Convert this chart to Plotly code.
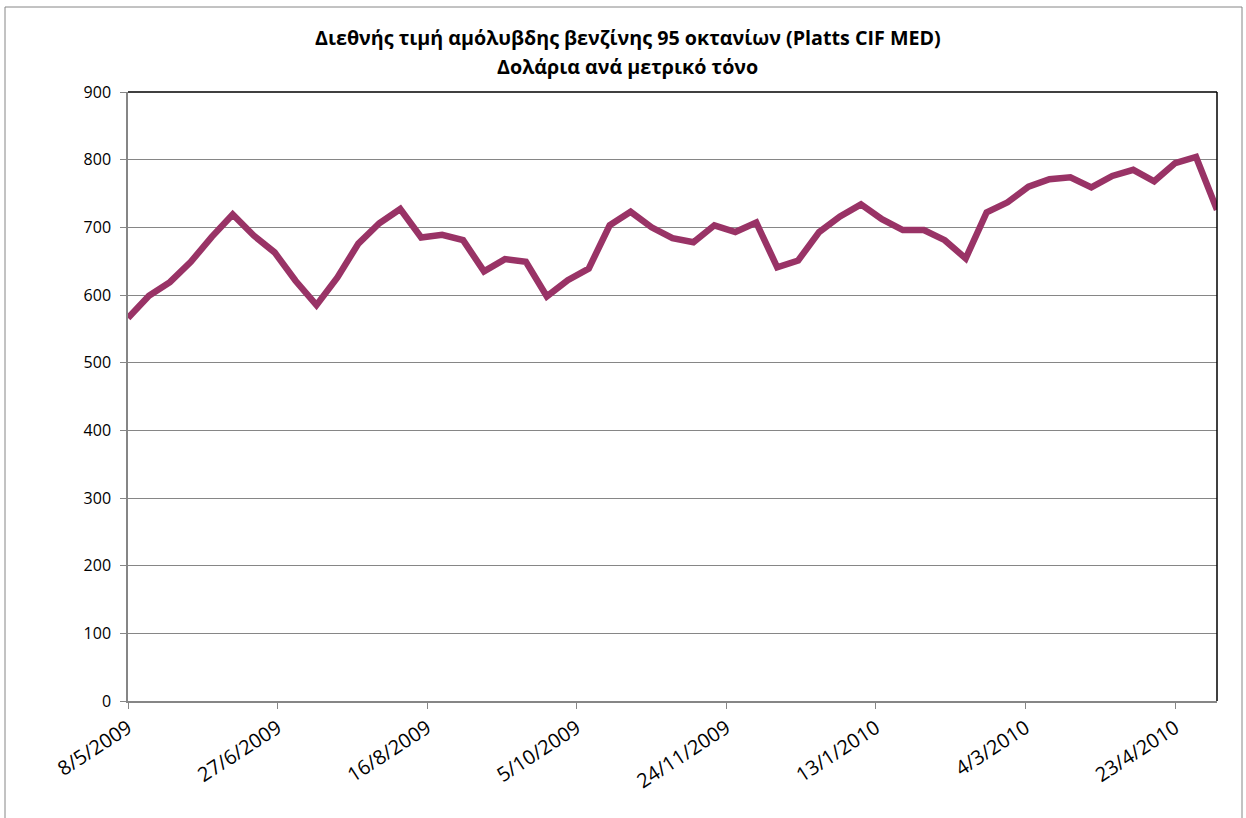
import datetime as dt
import plotly.graph_objects as go

start = dt.date(2009, 5, 8)
prices = [566, 599, 619, 649, 686, 719, 688, 663, 621, 585,
          626, 676, 706, 727, 685, 689, 681, 635, 653, 649,
          598, 622, 639, 703, 723, 700, 684, 678, 703, 693,
          707, 641, 651, 693, 716, 734, 712, 696, 696, 681,
          654, 722, 737, 760, 771, 774, 759, 776, 785, 768,
          795, 804, 726]
dates = [start + dt.timedelta(days=7 * i) for i in range(len(prices))]

tick_dates = [dt.date(2009, 5, 8), dt.date(2009, 6, 27), dt.date(2009, 8, 16),
              dt.date(2009, 10, 5), dt.date(2009, 11, 24), dt.date(2010, 1, 13),
              dt.date(2010, 3, 4), dt.date(2010, 4, 23)]
tick_labels = ["8/5/2009", "27/6/2009", "16/8/2009", "5/10/2009",
               "24/11/2009", "13/1/2010", "4/3/2010", "23/4/2010"]
y_ticks = list(range(0, 1000, 100))

title_line1 = "Διεθνής τιμή αμόλυβδης βενζίνης 95 οκτανίων (Platts CIF MED)"
title_line2 = "Δολάρια ανά μετρικό τόνο"

FONT = "Open Sans"

fig = go.Figure()
fig.add_trace(go.Scatter(
    x=dates, y=prices, mode="lines",
    line=dict(color="#993366", width=6.5),
    hoverinfo="x+y", showlegend=False,
))

W, H = 1246, 818
L, R, T, B = 128, 1217, 92, 701
PW, PH = R - L, B - T


def px_x(x):
    return (x - L) / PW


def px_y(y):
    return (B - y) / PH


fig.update_layout(
    width=W, height=H,
    margin=dict(l=L, r=W - R, t=T, b=H - B, autoexpand=False),
    paper_bgcolor="white", plot_bgcolor="white",
    font=dict(family=FONT, size=13, color="black"),
    xaxis=dict(
        type="date", automargin=False,
        range=[dates[0], dates[-1]],
        tickvals=tick_dates, ticktext=tick_labels, tickangle=-33,
        ticks="outside", ticklen=6, tickcolor="#868686",
        showline=True, linecolor="#868686", linewidth=1.5,
        showgrid=False, zeroline=False,
        tickfont=dict(family=FONT, size=20),
    ),
    yaxis=dict(
        range=[0, 900], tickvals=y_ticks, automargin=False,
        ticks="outside", ticklen=6, tickcolor="#868686",
        ticklabelstandoff=6,
        showline=True, linecolor="#868686", linewidth=1.5,
        showgrid=True, gridcolor="#868686", gridwidth=1,
        zeroline=False,
        tickfont=dict(family=FONT, size=16),
    ),
    annotations=[
        dict(text="<b>" + title_line1 + "</b>", xref="paper", yref="paper",
             x=px_x(628), y=px_y(37), xanchor="center", yanchor="middle",
             showarrow=False, font=dict(family=FONT, size=19.7, color="black")),
        dict(text="<b>" + title_line2 + "</b>", xref="paper", yref="paper",
             x=px_x(627), y=px_y(67), xanchor="center", yanchor="middle",
             showarrow=False, font=dict(family=FONT, size=19.7, color="black")),
    ],
    shapes=[
        dict(type="line", xref="paper", yref="paper", x0=0, x1=1, y0=1, y1=1,
             line=dict(color="black", width=1.5)),
        dict(type="line", xref="paper", yref="paper", x0=1, x1=1, y0=0, y1=1,
             line=dict(color="black", width=1.5)),
        dict(type="rect", xref="paper", yref="paper",
             x0=px_x(5), x1=px_x(1242), y0=px_y(840), y1=px_y(7),
             line=dict(color="#868686", width=1), layer="below"),
    ],
)

fig.write_html("out.html", config={"displayModeBar": False},
               post_script="document.body.style.margin='0';document.body.style.overflow='hidden';")
